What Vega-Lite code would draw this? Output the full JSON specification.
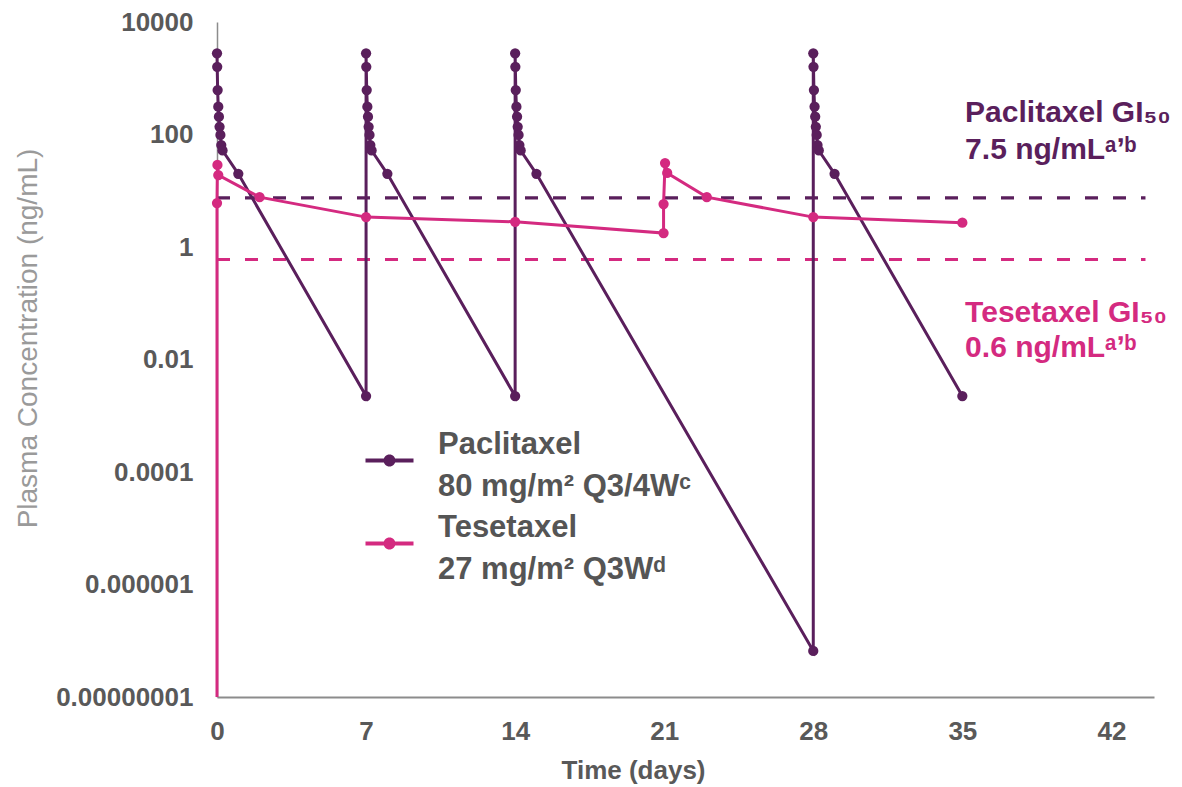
{
  "$schema": "https://vega.github.io/schema/vega-lite/v6.json",
  "width": 937,
  "height": 675,
  "autosize": "none",
  "padding": {"left": 217, "top": 22, "right": 28, "bottom": 90},
  "background": "white",
  "config": {"view": {"stroke": null}, "font": "Liberation Sans"},
  "datasets": {
    "pk": [
      {"drug": "Paclitaxel", "i": 1, "t": 0, "c": 2780},
      {"drug": "Paclitaxel", "i": 2, "t": 0.01, "c": 1600},
      {"drug": "Paclitaxel", "i": 3, "t": 0.03, "c": 618},
      {"drug": "Paclitaxel", "i": 4, "t": 0.06, "c": 312},
      {"drug": "Paclitaxel", "i": 5, "t": 0.09, "c": 207},
      {"drug": "Paclitaxel", "i": 6, "t": 0.12, "c": 137},
      {"drug": "Paclitaxel", "i": 7, "t": 0.16, "c": 98},
      {"drug": "Paclitaxel", "i": 8, "t": 0.2, "c": 65},
      {"drug": "Paclitaxel", "i": 9, "t": 0.26, "c": 52},
      {"drug": "Paclitaxel", "i": 10, "t": 1, "c": 20},
      {"drug": "Paclitaxel", "i": 11, "t": 7, "c": 0.00224},
      {"drug": "Paclitaxel", "i": 12, "t": 7, "c": 2780},
      {"drug": "Paclitaxel", "i": 13, "t": 7.01, "c": 1600},
      {"drug": "Paclitaxel", "i": 14, "t": 7.03, "c": 618},
      {"drug": "Paclitaxel", "i": 15, "t": 7.06, "c": 312},
      {"drug": "Paclitaxel", "i": 16, "t": 7.09, "c": 207},
      {"drug": "Paclitaxel", "i": 17, "t": 7.12, "c": 137},
      {"drug": "Paclitaxel", "i": 18, "t": 7.16, "c": 98},
      {"drug": "Paclitaxel", "i": 19, "t": 7.2, "c": 65},
      {"drug": "Paclitaxel", "i": 20, "t": 7.26, "c": 52},
      {"drug": "Paclitaxel", "i": 21, "t": 8, "c": 20},
      {"drug": "Paclitaxel", "i": 22, "t": 14, "c": 0.00224},
      {"drug": "Paclitaxel", "i": 23, "t": 14, "c": 2780},
      {"drug": "Paclitaxel", "i": 24, "t": 14.01, "c": 1600},
      {"drug": "Paclitaxel", "i": 25, "t": 14.03, "c": 618},
      {"drug": "Paclitaxel", "i": 26, "t": 14.06, "c": 312},
      {"drug": "Paclitaxel", "i": 27, "t": 14.09, "c": 207},
      {"drug": "Paclitaxel", "i": 28, "t": 14.12, "c": 137},
      {"drug": "Paclitaxel", "i": 29, "t": 14.16, "c": 98},
      {"drug": "Paclitaxel", "i": 30, "t": 14.2, "c": 65},
      {"drug": "Paclitaxel", "i": 31, "t": 14.26, "c": 52},
      {"drug": "Paclitaxel", "i": 32, "t": 15, "c": 20},
      {"drug": "Paclitaxel", "i": 33, "t": 28, "c": 6.6e-8},
      {"drug": "Paclitaxel", "i": 34, "t": 28, "c": 2780},
      {"drug": "Paclitaxel", "i": 35, "t": 28.01, "c": 1600},
      {"drug": "Paclitaxel", "i": 36, "t": 28.03, "c": 618},
      {"drug": "Paclitaxel", "i": 37, "t": 28.06, "c": 312},
      {"drug": "Paclitaxel", "i": 38, "t": 28.09, "c": 207},
      {"drug": "Paclitaxel", "i": 39, "t": 28.12, "c": 137},
      {"drug": "Paclitaxel", "i": 40, "t": 28.16, "c": 98},
      {"drug": "Paclitaxel", "i": 41, "t": 28.2, "c": 65},
      {"drug": "Paclitaxel", "i": 42, "t": 28.26, "c": 52},
      {"drug": "Paclitaxel", "i": 43, "t": 29, "c": 20},
      {"drug": "Paclitaxel", "i": 44, "t": 35, "c": 0.00224},
      {"drug": "Tesetaxel", "i": 101, "t": 0, "c": 1e-8},
      {"drug": "Tesetaxel", "i": 102, "t": 0, "c": 6.05},
      {"drug": "Tesetaxel", "i": 103, "t": 0.02, "c": 28.7},
      {"drug": "Tesetaxel", "i": 104, "t": 0.06, "c": 19},
      {"drug": "Tesetaxel", "i": 105, "t": 2, "c": 7.7},
      {"drug": "Tesetaxel", "i": 106, "t": 7, "c": 3.4},
      {"drug": "Tesetaxel", "i": 107, "t": 14, "c": 2.8},
      {"drug": "Tesetaxel", "i": 108, "t": 20.97, "c": 1.77},
      {"drug": "Tesetaxel", "i": 109, "t": 20.97, "c": 5.8},
      {"drug": "Tesetaxel", "i": 110, "t": 21.04, "c": 31},
      {"drug": "Tesetaxel", "i": 111, "t": 21.14, "c": 20.7},
      {"drug": "Tesetaxel", "i": 112, "t": 23, "c": 7.7},
      {"drug": "Tesetaxel", "i": 113, "t": 28, "c": 3.4},
      {"drug": "Tesetaxel", "i": 114, "t": 35, "c": 2.7}
    ]
  },
  "layer": [
    {
      "data": {"values": [{}]},
      "mark": {"type": "rule", "strokeDash": [13, 15], "strokeWidth": 3.2, "color": "#5a1f5c"},
      "encoding": {
        "x": {"datum": 0, "type": "quantitative"},
        "x2": {"datum": 43.6},
        "y": {"datum": 7.5, "type": "quantitative", "scale": {"type": "log"}}
      }
    },
    {
      "data": {"values": [{}]},
      "mark": {"type": "rule", "strokeDash": [13, 15], "strokeWidth": 3.2, "color": "#d42a80"},
      "encoding": {
        "x": {"datum": 0, "type": "quantitative"},
        "x2": {"datum": 43.6},
        "y": {"datum": 0.6, "type": "quantitative", "scale": {"type": "log"}}
      }
    },
    {
      "data": {"name": "pk"},
      "mark": {"type": "line", "strokeWidth": 3},
      "encoding": {
        "x": {
          "field": "t", "type": "quantitative",
          "scale": {"domain": [0, 44], "nice": false, "zero": false},
          "axis": {
            "values": [0, 7, 14, 21, 28, 35, 42],
            "title": "Time (days)",
            "grid": false, "ticks": false, "labelFlush": false,
            "domainColor": "#8c8c8c", "domainWidth": 2,
            "labelFont": "Liberation Sans", "labelFontWeight": "bold", "labelFontSize": 26,
            "labelColor": "#595959", "labelPadding": 21,
            "titleFont": "Liberation Sans", "titleFontWeight": "bold", "titleFontSize": 26,
            "titleColor": "#595959", "titleX": 416, "titleY": 73, "titleAlign": "center", "titleBaseline": "middle"
          }
        },
        "y": {
          "field": "c", "type": "quantitative",
          "scale": {"type": "log", "domain": [1e-8, 10000], "nice": false},
          "axis": {
            "values": [10000, 100, 1, 0.01, 0.0001, 0.000001, 0.00000001],
            "labelExpr": "format(datum.value, '.8~f')",
            "title": "Plasma Concentration (ng/mL)",
            "grid": false, "ticks": false, "labelFlush": false,
            "domainColor": "#8c8c8c", "domainWidth": 1.5,
            "labelFont": "Liberation Sans", "labelFontWeight": "bold", "labelFontSize": 26,
            "labelColor": "#595959", "labelPadding": 24,
            "titleFont": "Liberation Sans", "titleFontWeight": "normal", "titleFontSize": 28,
            "titleColor": "#9a9a9a", "titleX": -189, "titleY": 316, "titleAngle": -90,
            "titleAlign": "center", "titleBaseline": "middle"
          }
        },
        "order": {"field": "i", "type": "quantitative"},
        "color": {
          "field": "drug", "type": "nominal",
          "scale": {"domain": ["Paclitaxel", "Tesetaxel"], "range": ["#5a1f5c", "#d42a80"]},
          "legend": {
            "orient": "none", "legendX": 157, "legendY": 423, "title": null, "padding": 0,
            "symbolType": "M-2.4,-0.2L-0.55,-0.2L-0.55,0.2L-2.4,0.2Z M0.55,-0.2L2.4,-0.2L2.4,0.2L0.55,0.2Z M-0.6,0A0.6,0.6 0 1,1 0.6,0A0.6,0.6 0 1,1 -0.6,0Z",
            "symbolSize": 400, "symbolStrokeWidth": 0,
            "labelFont": "Liberation Sans", "labelFontWeight": "bold", "labelFontSize": 31,
            "labelColor": "#555555", "labelOffset": 33, "labelLimit": 0, "rowPadding": 9,
            "labelExpr": "datum.label == 'Paclitaxel' ? ['Paclitaxel', '80 mg/m² Q3/4Wᶜ'] : ['Tesetaxel', '27 mg/m² Q3Wᵈ']",
            "encode": {
              "symbols": {"update": {"fill": {"signal": "datum.value == 'Paclitaxel' ? '#4b3a80' : '#d81b77'"}, "stroke": {"value": "transparent"}, "strokeWidth": {"value": 0}}},
              "labels": {"update": {"lineHeight": {"value": 42}, "dy": {"value": -16}}}
            }
          }
        }
      }
    },
    {
      "data": {"name": "pk"},
      "transform": [{"filter": "datum.c > 1e-8"}],
      "mark": {"type": "point", "filled": true, "opacity": 1, "size": 105},
      "encoding": {
        "x": {"field": "t", "type": "quantitative"},
        "y": {"field": "c", "type": "quantitative", "scale": {"type": "log"}},
        "color": {"field": "drug", "type": "nominal", "legend": null}
      }
    },
    {
      "data": {"values": [{}]},
      "mark": {"type": "text", "align": "left", "baseline": "middle", "fontSize": 30, "fontWeight": "bold", "font": "Liberation Sans", "color": "#5a1f5c", "lineHeight": 37},
      "encoding": {
        "x": {"datum": 35.13, "type": "quantitative"},
        "y": {"datum": 241, "type": "quantitative", "scale": {"type": "log"}},
        "text": {"value": ["Paclitaxel GI₅₀", "7.5 ng/mLᵃʼᵇ"]}
      }
    },
    {
      "data": {"values": [{}]},
      "mark": {"type": "text", "align": "left", "baseline": "middle", "fontSize": 30, "fontWeight": "bold", "font": "Liberation Sans", "color": "#d42a80", "lineHeight": 35},
      "encoding": {
        "x": {"datum": 35.13, "type": "quantitative"},
        "y": {"datum": 0.0671, "type": "quantitative", "scale": {"type": "log"}},
        "text": {"value": ["Tesetaxel GI₅₀", "0.6 ng/mLᵃʼᵇ"]}
      }
    }
  ]
}
